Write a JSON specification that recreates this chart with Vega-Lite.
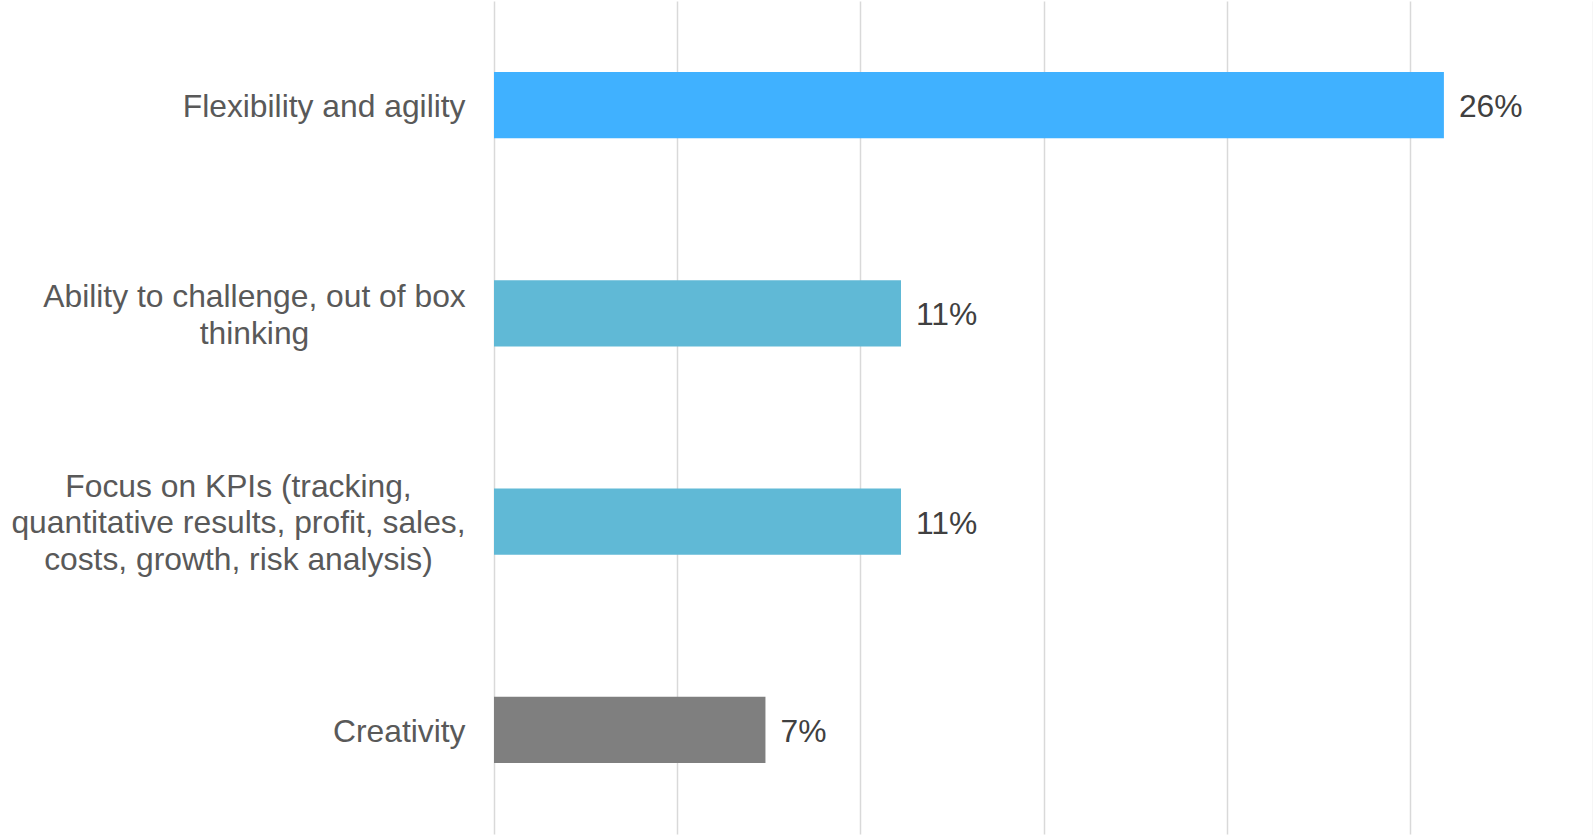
{
  "$schema": "https://vega.github.io/schema/vega-lite/v6.json",
  "autosize": {"type": "none"},
  "width": 1099,
  "height": 833,
  "padding": {"left": 494, "top": 1, "right": 0, "bottom": 3},
  "background": "white",
  "config": {"view": {"stroke": null}, "font": "Liberation Sans"},
  "data": {
    "values": [
      {"skill": "Flexibility and agility", "share": 0.2593},
      {"skill": "Ability to challenge, out of box thinking", "share": 0.1111},
      {"skill": "Focus on KPIs (tracking, quantitative results, profit, sales, costs, growth, risk analysis)", "share": 0.1111},
      {"skill": "Creativity", "share": 0.0741}
    ]
  },
  "encoding": {
    "y": {
      "field": "skill",
      "type": "nominal",
      "sort": null,
      "scale": {"paddingInner": 0.683, "paddingOuter": 0.3415},
      "axis": {
        "title": null,
        "domain": false,
        "ticks": false,
        "tickSize": 0,
        "grid": false,
        "labelFont": "Liberation Sans",
        "labelFontSize": 31.8,
        "labelColor": "#595959",
        "labelLineHeight": 36.6,
        "labelLimit": 0,
        "labelBaseline": "middle",
        "labelExpr": "datum.label == 'Ability to challenge, out of box thinking' ? ['Ability to challenge, out of box', 'thinking'] : datum.label == 'Flexibility and agility' || datum.label == 'Creativity' ? datum.label : ['Focus on KPIs (tracking,', 'quantitative results, profit, sales,', 'costs, growth, risk analysis)']",
        "labelAlign": {
          "condition": {"test": "datum.value == 'Flexibility and agility' || datum.value == 'Creativity'", "value": "right"},
          "value": "center"
        },
        "labelPadding": {
          "condition": [
            {"test": "datum.value == 'Ability to challenge, out of box thinking'", "value": 240},
            {"test": "datum.value == 'Focus on KPIs (tracking, quantitative results, profit, sales, costs, growth, risk analysis)'", "value": 256}
          ],
          "value": 29
        },
        "labelOffset": {
          "condition": [
            {"test": "datum.value == 'Ability to challenge, out of box thinking'", "value": -16},
            {"test": "datum.value == 'Focus on KPIs (tracking, quantitative results, profit, sales, costs, growth, risk analysis)'", "value": -35}
          ],
          "value": 2
        }
      }
    }
  },
  "layer": [
    {
      "mark": {"type": "bar"},
      "encoding": {
        "x": {
          "field": "share",
          "type": "quantitative",
          "scale": {"domain": [0, 0.3], "nice": false},
          "axis": {
            "title": null,
            "labels": false,
            "ticks": false,
            "domain": false,
            "values": [0, 0.05, 0.1, 0.15, 0.2, 0.25, 0.3],
            "grid": true,
            "gridColor": "#D9D9D9",
            "gridWidth": 1.5
          }
        },
        "color": {
          "field": "skill",
          "type": "nominal",
          "legend": null,
          "scale": {
            "domain": [
              "Flexibility and agility",
              "Ability to challenge, out of box thinking",
              "Focus on KPIs (tracking, quantitative results, profit, sales, costs, growth, risk analysis)",
              "Creativity"
            ],
            "range": ["#40B1FF", "#60B9D6", "#60B9D6", "#7F7F7F"]
          }
        }
      }
    },
    {
      "mark": {"type": "text", "align": "left", "baseline": "middle", "dx": 15, "dy": 2, "fontSize": 31.8, "font": "Liberation Sans", "color": "#404040"},
      "encoding": {
        "x": {"field": "share", "type": "quantitative"},
        "text": {"field": "share", "type": "quantitative", "format": ".0%"}
      }
    }
  ]
}
